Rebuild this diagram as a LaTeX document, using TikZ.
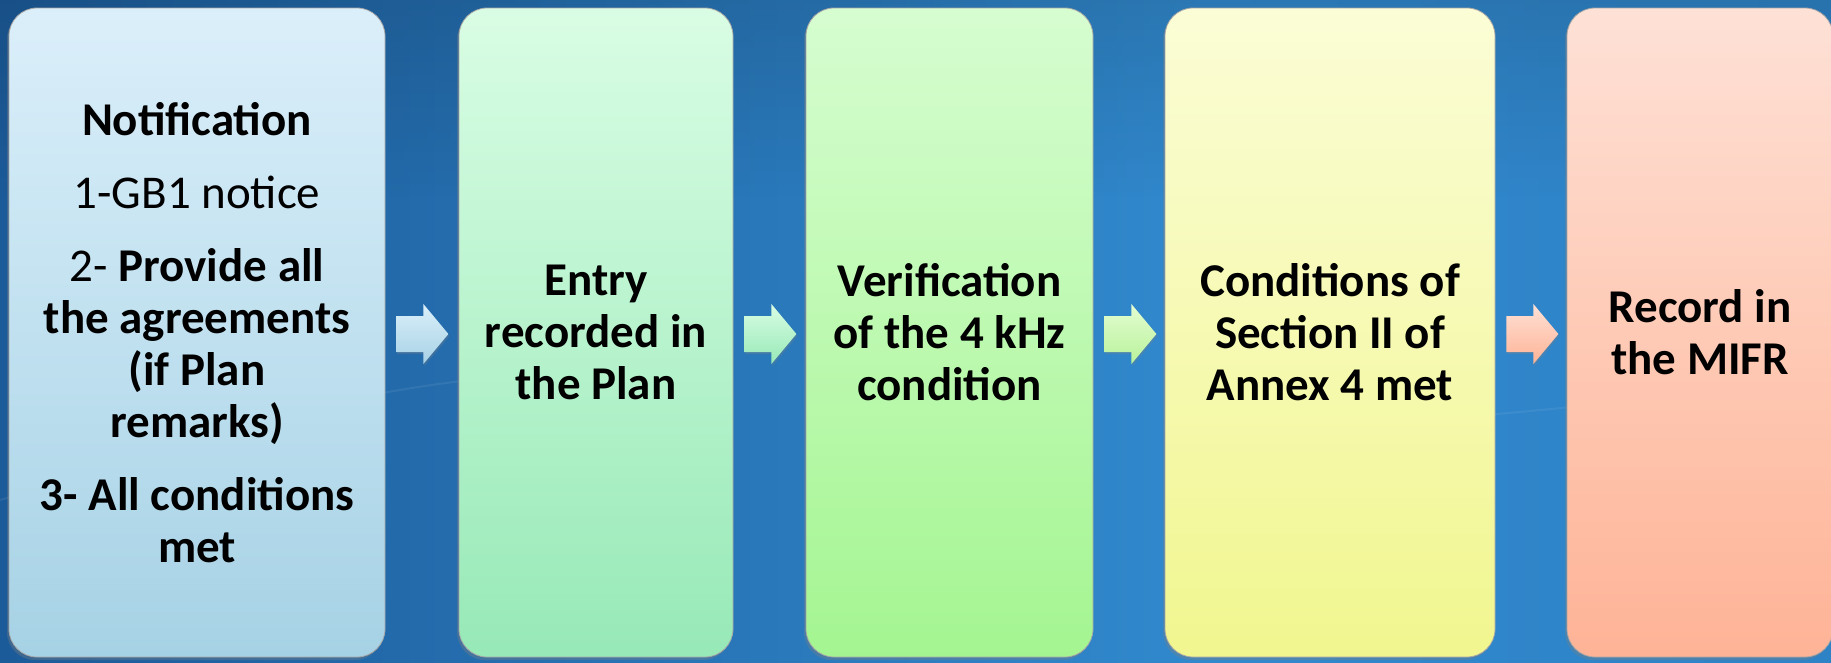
\documentclass[tikz,border=0pt]{standalone}
\usepackage{fontspec}
\setmainfont{Carlito}
\usetikzlibrary{shadows,calc,fadings}
\definecolor{bgL}{HTML}{0C3872}
\definecolor{bgM}{HTML}{3189CD}
\definecolor{bgR}{HTML}{2A77BC}
\definecolor{c1t}{HTML}{DBEFFA}\definecolor{c1b}{HTML}{A6D2E5}
\definecolor{c2t}{HTML}{D9FDE4}\definecolor{c2b}{HTML}{97E9B7}
\definecolor{c3t}{HTML}{D6FDD0}\definecolor{c3b}{HTML}{A4F591}
\definecolor{c4t}{HTML}{FBFDD6}\definecolor{c4b}{HTML}{F1F68F}
\definecolor{c5t}{HTML}{FEE1D6}\definecolor{c5b}{HTML}{FEB396}
\definecolor{a3t}{HTML}{E4FDD2}\definecolor{a3b}{HTML}{B8F29A}
\pgfdeclarehorizontalshading{bgshade}{100bp}{color(0bp)=(bgL); color(58bp)=(bgM); color(100bp)=(bgR)}
\tikzset{
  stepbox/.style={rounded corners=28pt, draw=black!35, line width=0.8pt,
    inner sep=0pt, align=center, text=black,
    font=\fontsize{47}{52}\selectfont\bfseries,
    drop shadow={shadow xshift=-2pt, shadow yshift=-3pt, opacity=0.35}},
  blockarr/.style={line width=0pt, drop shadow={shadow xshift=1pt, shadow yshift=-2pt, opacity=0.3}}
}
\newcommand\blockarrow[3]{%
  \path[blockarr, top color=#2, bottom color=#3]
    (#1) ++(0,-18) -- ++(27,0) -- ++(0,-12) -- ++(25,30) -- ++(-25,30)
    -- ++(0,-12) -- ++(-27,0) -- cycle;}
\begin{document}
\begin{tikzpicture}[x=1pt,y=-1pt]
\useasboundingbox (0,0) rectangle (1831,662);
\fill[shading=bgshade] (0,0) rectangle (1831,662);
\fill[black, opacity=0.12, path fading=south] (0,0) rectangle (1831,200);
\draw[white, opacity=0.07, line width=2pt] (0,500) .. controls (200,440) and (300,400) .. (470,380);
\draw[white, opacity=0.06, line width=2pt] (1300,430) .. controls (1450,420) and (1650,400) .. (1831,380);

\node[stepbox, top color=c1t, bottom color=c1b, minimum width=376pt, minimum height=649pt]
  (b1) at (197,332.5)
  {Notification\\[21pt]
   {\mdseries 1-GB1 notice}\\[21pt]
   {\mdseries 2-} Provide all\\
   the agreements\\
   (if Plan\\
   remarks)\\[21pt]
   3- All conditions\\
   met};
\node[stepbox, top color=c2t, bottom color=c2b, minimum width=274pt, minimum height=649pt]
  (b2) at (596,332.5) {Entry\\recorded in\\the Plan};
\node[stepbox, top color=c3t, bottom color=c3b, minimum width=287pt, minimum height=649pt]
  (b3) at (949.5,332.5) {Verification\\of the 4 kHz\\condition};
\node[stepbox, top color=c4t, bottom color=c4b, minimum width=330pt, minimum height=649pt]
  (b4) at (1330,332.5) {Conditions of\\Section II of\\Annex 4 met};
\node[stepbox, top color=c5t, bottom color=c5b, minimum width=266pt, minimum height=649pt]
  (b5) at (1700,332.5) {Record in\\the MIFR};

\coordinate (a1) at ($(b1.east)+(11,1.5)$);
\coordinate (a2) at ($(b2.east)+(11,1.5)$);
\coordinate (a3) at ($(b3.east)+(11,1.5)$);
\coordinate (a4) at ($(b4.east)+(11,1.5)$);
\blockarrow{a1}{c1t}{c1b}
\blockarrow{a2}{c2t}{c2b}
\blockarrow{a3}{a3t}{a3b}
\blockarrow{a4}{c5t}{c5b}
\end{tikzpicture}
\end{document}
